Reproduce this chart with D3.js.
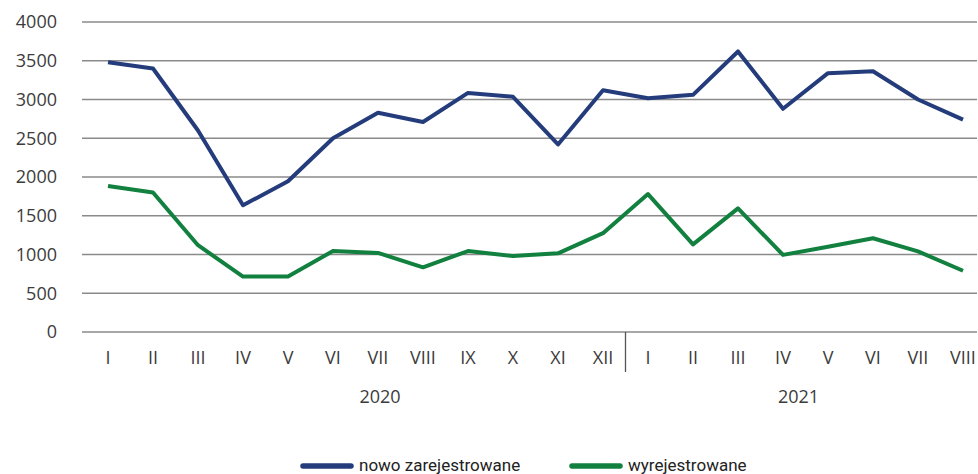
<!DOCTYPE html>
<html>
<head>
<meta charset="utf-8">
<script src="https://cdn.jsdelivr.net/npm/d3@7"></script>
<style>
  html, body { margin: 0; padding: 0; background: #fff; }
  svg { display: block; font-family: "Open Sans", Roboto, sans-serif; }
</style>
</head>
<body>
<svg id="chart" width="978" height="474"></svg>
<script>
// ---- data ----
const months = ["I","II","III","IV","V","VI","VII","VIII","IX","X","XI","XII",
                "I","II","III","IV","V","VI","VII","VIII"];
const years = ["2020", "2021"];
const seriesNames = ["nowo zarejestrowane", "wyrejestrowane"];
const nowoZarejestrowane = [3480, 3400, 2600, 1635, 1945, 2500, 2830, 2710, 3085, 3035, 2420, 3120,
                            3015, 3060, 3620, 2880, 3340, 3365, 3000, 2740];
const wyrejestrowane = [1885, 1800, 1120, 715, 715, 1045, 1020, 835, 1045, 980, 1015, 1275,
                        1780, 1130, 1595, 995, 1100, 1210, 1040, 790];
const yTicks = [0, 500, 1000, 1500, 2000, 2500, 3000, 3500, 4000];

// ---- layout ----
const svg = d3.select("#chart");
const gridLeft = 82, gridRight = 977;
const y = d3.scaleLinear().domain([0, 4000]).range([332, 22]);
const x = d3.scalePoint().domain(d3.range(months.length)).range([108, 963]);

const colors = ["#253c7c", "#12813f"];
const textColor = "#3c3c3c";

// gridlines
svg.append("g").selectAll("line").data(yTicks).join("line")
  .attr("x1", gridLeft).attr("x2", gridRight)
  .attr("y1", d => y(d)).attr("y2", d => y(d))
  .attr("stroke", "#8a8a8a").attr("stroke-width", 1.6);

// y labels
svg.append("g").selectAll("text").data(yTicks).join("text")
  .attr("x", 57).attr("y", d => y(d)).attr("dy", "0.35em")
  .attr("text-anchor", "end")
  .attr("font-size", 18).attr("fill", textColor)
  .text(d => d);

// x labels
svg.append("g").selectAll("text").data(months).join("text")
  .attr("x", (d, i) => x(i)).attr("y", 358).attr("dy", "0.35em")
  .attr("text-anchor", "middle")
  .attr("font-size", 18).attr("fill", textColor)
  .text(d => d);

// year separator
const sepX = (x(11) + x(12)) / 2;
svg.append("line").attr("x1", sepX).attr("x2", sepX).attr("y1", 332).attr("y2", 372)
  .attr("stroke", "#555").attr("stroke-width", 1.3);

// year labels
const yearX = [x(6) + 2, (x(15) + x(16)) / 2 - 7];
svg.append("g").selectAll("text").data(years).join("text")
  .attr("x", (d, i) => yearX[i]).attr("y", 397).attr("dy", "0.35em")
  .attr("text-anchor", "middle")
  .attr("font-size", 18).attr("fill", textColor)
  .text(d => d);

// lines
const line = d3.line().x((d, i) => x(i)).y(d => y(d));
[nowoZarejestrowane, wyrejestrowane].forEach((s, k) => {
  svg.append("path").datum(s)
    .attr("d", line)
    .attr("fill", "none")
    .attr("stroke", colors[k])
    .attr("stroke-width", 4)
    .attr("stroke-linejoin", "round");
});

// legend
const legendX = [303, 572];
const lg = svg.append("g");
seriesNames.forEach((name, k) => {
  lg.append("line")
    .attr("x1", legendX[k]).attr("x2", legendX[k] + 48)
    .attr("y1", 466).attr("y2", 466)
    .attr("stroke", colors[k]).attr("stroke-width", 5.5).attr("stroke-linecap", "round");
  lg.append("text")
    .attr("x", legendX[k] + 56).attr("y", 465).attr("dy", "0.35em")
    .attr("font-family", "Roboto, sans-serif")
    .attr("font-size", 17).attr("fill", "#222")
    .text(name);
});
</script>
</body>
</html>
